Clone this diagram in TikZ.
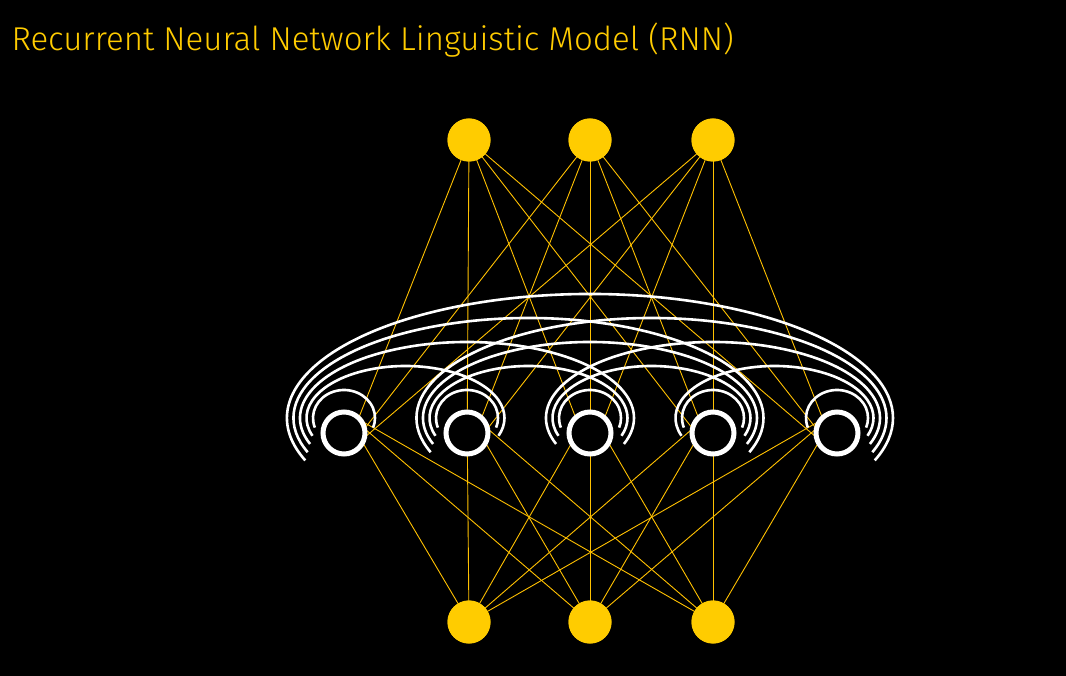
\documentclass[tikz,border=0pt]{standalone}
\usepackage{fontspec}
\setmainfont{Fira Sans Light}
\definecolor{gold}{RGB}{255,204,0}
\tikzset{
  unit/.style={circle, fill=gold, minimum size=43pt, inner sep=0pt},
  hidden/.style={circle, draw=white, line width=5pt, fill=black, minimum size=42pt, inner sep=0pt},
  weight/.style={draw=gold!85!orange, line width=0.9pt},
  recur/.style={draw=white, line width=2.6pt}
}
\begin{document}
\begin{tikzpicture}[x=1pt, y=-1pt]
    \fill[black] (0,0) rectangle (1066,676);
    \node[anchor=west, text=gold, font=\fontsize{33}{38}\selectfont] (title) at (8,40) {Recurrent Neural Network Linguistic Model (RNN)};
    % Place nodes
    \foreach \n/\x in {1/469, 2/590, 3/713} {
        \node[unit] (out\n) at (\x,140) {};
        \node[unit] (in\n) at (\x,622) {};
    }
    \foreach \n/\x in {1/344, 2/467, 3/590, 4/713, 5/837}
        \coordinate (c\n) at (\x,433);
    % Weights
    \foreach \o in {1,2,3}
        \foreach \n in {1,...,5} {
            \path[weight] (out\o.center) -- ([yshift=-22pt]c\n);
            \path[weight] ([yshift=22pt]c\n) -- (in\o.center);
        }
    % Recurrent arcs
    \foreach \i in {1,...,5} {
        \foreach \j in {\i,...,5} {
            \pgfmathsetmacro{\d}{\j-\i}
            \pgfmathsetmacro{\off}{31+6.5*\d}
            \pgfmathsetmacro{\rx}{61.5*\d+\off}
            \pgfmathsetmacro{\ry}{28+24*\d}
            \pgfmathsetmacro{\sx}{61.5*\d+\rx*cos(160)}
            \pgfmathsetmacro{\sy}{-15+\ry*sin(160)}
            \path[recur] ([shift={(\sx,\sy)}]c\i) arc[start angle=160, end angle=380, x radius=\rx, y radius=\ry];
        }
    }
    \foreach \n in {1,...,5}
        \node[hidden] (h\n) at (c\n) {};
    \foreach \o in {1,2,3} {
        \node[unit] at (out\o) {};
        \node[unit] at (in\o) {};
    }
\end{tikzpicture}
\end{document}
